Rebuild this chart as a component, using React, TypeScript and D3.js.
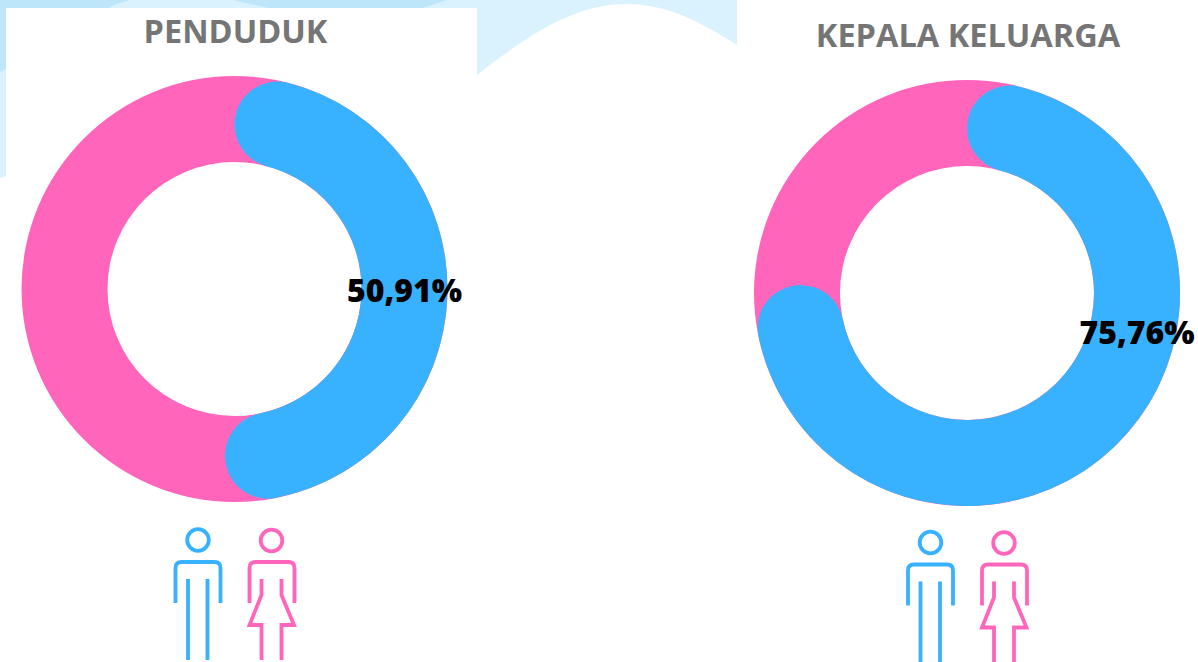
import React from 'react';
import * as d3 from 'd3';

// share of men (%), one value per donut
const titles = ['PENDUDUK', 'KEPALA KELUARGA'];
const malePercent = [50.91, 75.76];
const valueLabels = ['50,91%', '75,76%'];
// the labels sit on the blue ring, angle in degrees from 12 o'clock
const labelAngles = [90.5, 103];
const labelRadii = [170, 174.5];

const centers = [[234.5, 289], [967, 293]];
const titleY = [43, 47];
const iconOffsets = [[0, 0], [732.5, 2.5]];

const width = 1198;
const height = 662;
const outerRadius = 213;
const innerRadius = 127;

const BLUE = '#38b1ff';
const PINK = '#ff66bb';
const PALE = '#daf2fe';
const SKY = '#bee6fa';

const ring = d3.arc<any>()
    .innerRadius(innerRadius)
    .outerRadius(outerRadius);

const capRing = d3.arc<any>()
    .innerRadius(innerRadius)
    .outerRadius(outerRadius)
    .cornerRadius((outerRadius - innerRadius) / 2);

const angle = d3.scaleLinear().domain([0, 100]).range([0, 2 * Math.PI]);

function Male({color}: {color: string}) {
    return <g fill="none" stroke={color} strokeWidth={3.8}>
        <circle cx={198} cy={540} r={10.8} />
        <path d="M175.5 603V568Q175.5 562 181.5 562H214.5Q220.5 562 220.5 568V603" />
        <path d="M188 579V660M207.5 579V660" />
    </g>;
}

function Female({color}: {color: string}) {
    return <g fill="none" stroke={color} strokeWidth={3.8}>
        <circle cx={271.5} cy={540.5} r={10.8} />
        <path d="M249.5 603V568Q249.5 562 255.5 562H288.5Q294.5 562 294.5 568V603" />
        <path d="M261.5 579V595L249.5 625H261.5V660M281.5 579V595L294 625H281.5V660" />
    </g>;
}

function Donut({index}: {index: number}) {
    const [cx, cy] = centers[index];
    const labelAngle = labelAngles[index] * Math.PI / 180;
    const labelRadius = labelRadii[index];
    return <g>
        <g transform={`translate(${cx},${cy})`}>
            <path fill={PINK} d={ring({startAngle: 0, endAngle: 2 * Math.PI}) as string} />
            <path fill={BLUE} d={capRing({startAngle: 0, endAngle: angle(malePercent[index])}) as string} />
            <text x={labelRadius * Math.sin(labelAngle)} y={-labelRadius * Math.cos(labelAngle)}
                  dy="0.36em" textAnchor="middle" fontSize={32} fontWeight={800} fill="#000">
                {valueLabels[index]}
            </text>
        </g>
        <text x={cx + 1} y={titleY[index]} textAnchor="middle" fontSize={32.5} fontWeight={700} fill="#757575">
            {titles[index]}
        </text>
        <g transform={`translate(${iconOffsets[index][0]},${iconOffsets[index][1]})`}>
            <Male color={BLUE} />
            <Female color={PINK} />
        </g>
    </g>;
}

export default function App() {
    return <svg width={width} height={height} viewBox={`0 0 ${width} ${height}`}
                style={{position: 'absolute', left: 0, top: 0, background: '#fff', fontFamily: '"Open Sans", sans-serif'}}>
        {/* wavy page background */}
        <path fill={PALE} d="M0 0H737V45C690 15 660 4 625 4C570 4 520 42 477 75L240 120L0 178Z" />
        <path fill={SKY} d="M0 0H130Q118 3 108 8H6V69L0 72Z" />
        <path fill={SKY} d="M233 0H447Q435 4 423 8H268Q250 4 233 0Z" />
        <rect x={6} y={8} width={471} height={180} fill="#fff" />
        {titles.map((t, i) => <Donut key={t} index={i} />)}
    </svg>;
}
